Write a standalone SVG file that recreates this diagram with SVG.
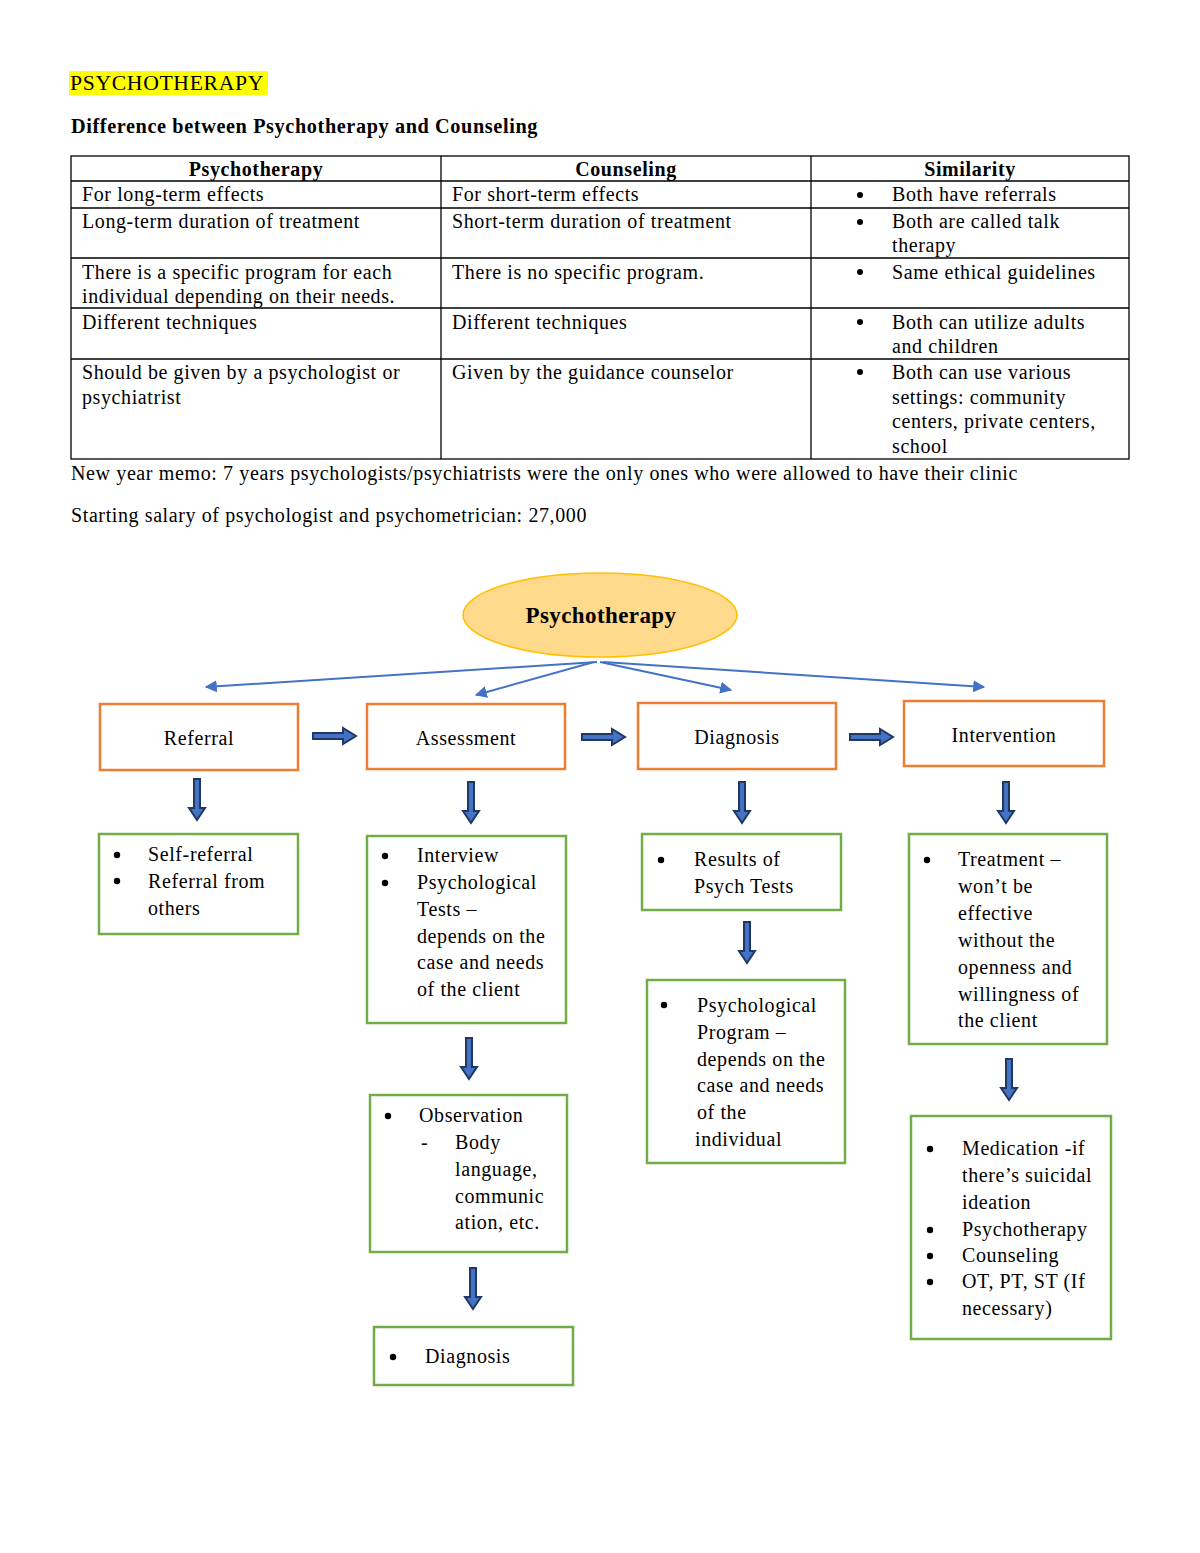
<svg xmlns="http://www.w3.org/2000/svg" width="1200" height="1553" viewBox="0 0 1200 1553">
<defs>
<style>
text{font-family:"Liberation Serif","Times New Roman",serif;font-size:20px;fill:#000;letter-spacing:0.6px}
.b{font-weight:bold}
.c{text-anchor:middle}
.tbl{fill:none;stroke:#000;stroke-width:1.3}
.ob{fill:#fff;stroke:#ED7D31;stroke-width:2.5}
.gb{fill:#fff;stroke:#70AD47;stroke-width:2.5}
.ba{fill:#4472C4;stroke:#1F3864;stroke-width:2;stroke-linejoin:miter}
.ln{fill:none;stroke:#4472C4;stroke-width:2}
</style>
<marker id="ah2" viewBox="0 0 10 10" refX="9" refY="5" markerWidth="12" markerHeight="12" orient="auto" markerUnits="userSpaceOnUse">
<path d="M0,0 L10,5 L0,10 z" fill="#4472C4"/>
</marker>
</defs>
<rect width="1200" height="1553" fill="#fff"/>

<g id="header">
<rect x="69" y="71" width="199" height="24" fill="#FFFF00"/>
<text x="70" y="90" textLength="194" lengthAdjust="spacingAndGlyphs">PSYCHOTHERAPY</text>
<text class="b" x="71" y="133" textLength="467" lengthAdjust="spacingAndGlyphs">Difference between Psychotherapy and Counseling</text>
</g>

<g id="table">
<rect class="tbl" x="71" y="156" width="1058" height="303"/>
<line class="tbl" x1="441" y1="156" x2="441" y2="459"/>
<line class="tbl" x1="811" y1="156" x2="811" y2="459"/>
<line class="tbl" x1="71" y1="181" x2="1129" y2="181"/>
<line class="tbl" x1="71" y1="208" x2="1129" y2="208"/>
<line class="tbl" x1="71" y1="258" x2="1129" y2="258"/>
<line class="tbl" x1="71" y1="308" x2="1129" y2="308"/>
<line class="tbl" x1="71" y1="359" x2="1129" y2="359"/>
<text class="b c" x="256" y="176">Psychotherapy</text>
<text class="b c" x="626" y="176">Counseling</text>
<text class="b c" x="970" y="176">Similarity</text>
<text x="82" y="201">For long-term effects</text>
<text x="82" y="228">Long-term duration of treatment</text>
<text x="82" y="279">There is a specific program for each</text>
<text x="82" y="303">individual depending on their needs.</text>
<text x="82" y="329">Different techniques</text>
<text x="82" y="379">Should be given by a psychologist or</text>
<text x="82" y="404">psychiatrist</text>
<text x="452" y="201">For short-term effects</text>
<text x="452" y="228">Short-term duration of treatment</text>
<text x="452" y="279">There is no specific program.</text>
<text x="452" y="329">Different techniques</text>
<text x="452" y="379">Given by the guidance counselor</text>
<g>
<circle cx="860" cy="195" r="3"/>
<circle cx="860" cy="222" r="3"/>
<circle cx="860" cy="272" r="3"/>
<circle cx="860" cy="322" r="3"/>
<circle cx="860" cy="372" r="3"/>
</g>
<text x="892" y="201">Both have referrals</text>
<text x="892" y="228">Both are called talk</text>
<text x="892" y="252">therapy</text>
<text x="892" y="279">Same ethical guidelines</text>
<text x="892" y="329">Both can utilize adults</text>
<text x="892" y="353">and children</text>
<text x="892" y="379">Both can use various</text>
<text x="892" y="404">settings: community</text>
<text x="892" y="428">centers, private centers,</text>
<text x="892" y="453">school</text>
</g>

<g id="notes">
<text x="71" y="480" textLength="947" lengthAdjust="spacingAndGlyphs">New year memo: 7 years psychologists/psychiatrists were the only ones who were allowed to have their clinic</text>
<text x="71" y="522" textLength="516" lengthAdjust="spacingAndGlyphs">Starting salary of psychologist and psychometrician: 27,000</text>
</g>

<g id="connectors">
<line class="ln" x1="597" y1="662" x2="206" y2="687" marker-end="url(#ah2)"/>
<line class="ln" x1="594" y1="662" x2="476" y2="695" marker-end="url(#ah2)"/>
<line class="ln" x1="600" y1="662" x2="731" y2="690" marker-end="url(#ah2)"/>
<line class="ln" x1="603" y1="662" x2="984" y2="687" marker-end="url(#ah2)"/>
<polygon class="ba" points="313,733 343,733 343,728 356,736 343,744 343,739 313,739"/>
<polygon class="ba" points="582,734 612,734 612,729 625,737 612,745 612,740 582,740"/>
<polygon class="ba" points="850,734 880,734 880,729 893,737 880,745 880,740 850,740"/>
<polygon class="ba" points="194,779 200,779 200,808 205,808 197,820 189,808 194,808"/>
<polygon class="ba" points="468,782 474,782 474,811 479,811 471,823 463,811 468,811"/>
<polygon class="ba" points="739,782 745,782 745,811 750,811 742,823 734,811 739,811"/>
<polygon class="ba" points="1003,782 1009,782 1009,811 1014,811 1006,823 998,811 1003,811"/>
<polygon class="ba" points="744,922 750,922 750,951 755,951 747,963 739,951 744,951"/>
<polygon class="ba" points="466,1038 472,1038 472,1067 477,1067 469,1079 461,1067 466,1067"/>
<polygon class="ba" points="1006,1059 1012,1059 1012,1088 1017,1088 1009,1100 1001,1088 1006,1088"/>
<polygon class="ba" points="470,1268 476,1268 476,1297 481,1297 473,1309 465,1297 470,1297"/>
</g>

<g id="node-psychotherapy">
<ellipse cx="600" cy="615" rx="137" ry="42" fill="#FFD98C" stroke="#FFC000" stroke-width="1.5"/>
<text class="b c" x="601" y="623" style="font-size:23px;letter-spacing:0.4px">Psychotherapy</text>
</g>

<g id="node-referral">
<rect class="ob" x="100" y="704" width="198" height="66"/>
<text class="c" x="199" y="745">Referral</text>
</g>
<g id="node-assessment">
<rect class="ob" x="367" y="704" width="198" height="65"/>
<text class="c" x="466" y="745">Assessment</text>
</g>
<g id="node-diagnosis">
<rect class="ob" x="638" y="703" width="198" height="66"/>
<text class="c" x="737" y="744">Diagnosis</text>
</g>
<g id="node-intervention">
<rect class="ob" x="904" y="701" width="200" height="65"/>
<text class="c" x="1004" y="742">Intervention</text>
</g>

<g id="node-referral-list">
<rect class="gb" x="99" y="834" width="199" height="100"/>
<circle cx="117" cy="855" r="3.2"/>
<circle cx="117" cy="881" r="3.2"/>
<text x="148" y="861">Self-referral</text>
<text x="148" y="888">Referral from</text>
<text x="148" y="915">others</text>
</g>

<g id="node-assessment-list">
<rect class="gb" x="367" y="836" width="199" height="187"/>
<circle cx="385" cy="856" r="3.2"/>
<circle cx="385" cy="883" r="3.2"/>
<text x="417" y="862">Interview</text>
<text x="417" y="889">Psychological</text>
<text x="417" y="916">Tests –</text>
<text x="417" y="943">depends on the</text>
<text x="417" y="969">case and needs</text>
<text x="417" y="996">of the client</text>
</g>

<g id="node-observation">
<rect class="gb" x="370" y="1095" width="197" height="157"/>
<circle cx="388" cy="1116" r="3.2"/>
<text x="419" y="1122">Observation</text>
<text x="421" y="1149">-</text>
<text x="455" y="1149">Body</text>
<text x="455" y="1176">language,</text>
<text x="455" y="1203">communic</text>
<text x="455" y="1229">ation, etc.</text>
</g>

<g id="node-assessment-diagnosis">
<rect class="gb" x="374" y="1327" width="199" height="58"/>
<circle cx="393" cy="1357" r="3.2"/>
<text x="425" y="1363">Diagnosis</text>
</g>

<g id="node-results">
<rect class="gb" x="642" y="834" width="199" height="76"/>
<circle cx="661" cy="860" r="3.2"/>
<text x="694" y="866">Results of</text>
<text x="694" y="893">Psych Tests</text>
</g>

<g id="node-program">
<rect class="gb" x="647" y="980" width="198" height="183"/>
<circle cx="664" cy="1005" r="3.2"/>
<text x="697" y="1012">Psychological</text>
<text x="697" y="1039">Program –</text>
<text x="697" y="1066">depends on the</text>
<text x="697" y="1092">case and needs</text>
<text x="697" y="1119">of the</text>
<text x="695" y="1146">individual</text>
</g>

<g id="node-treatment">
<rect class="gb" x="909" y="834" width="198" height="210"/>
<circle cx="927" cy="860" r="3.2"/>
<text x="958" y="866">Treatment –</text>
<text x="958" y="893">won’t be</text>
<text x="958" y="920">effective</text>
<text x="958" y="947">without the</text>
<text x="958" y="974">openness and</text>
<text x="958" y="1001">willingness of</text>
<text x="958" y="1027">the client</text>
</g>

<g id="node-medication">
<rect class="gb" x="911" y="1116" width="200" height="223"/>
<circle cx="930" cy="1149" r="3.2"/>
<circle cx="930" cy="1230" r="3.2"/>
<circle cx="930" cy="1256" r="3.2"/>
<circle cx="930" cy="1282" r="3.2"/>
<text x="962" y="1155">Medication -if</text>
<text x="962" y="1182">there’s suicidal</text>
<text x="962" y="1209">ideation</text>
<text x="962" y="1236">Psychotherapy</text>
<text x="962" y="1262">Counseling</text>
<text x="962" y="1288">OT, PT, ST (If</text>
<text x="962" y="1315">necessary)</text>
</g>
</svg>
